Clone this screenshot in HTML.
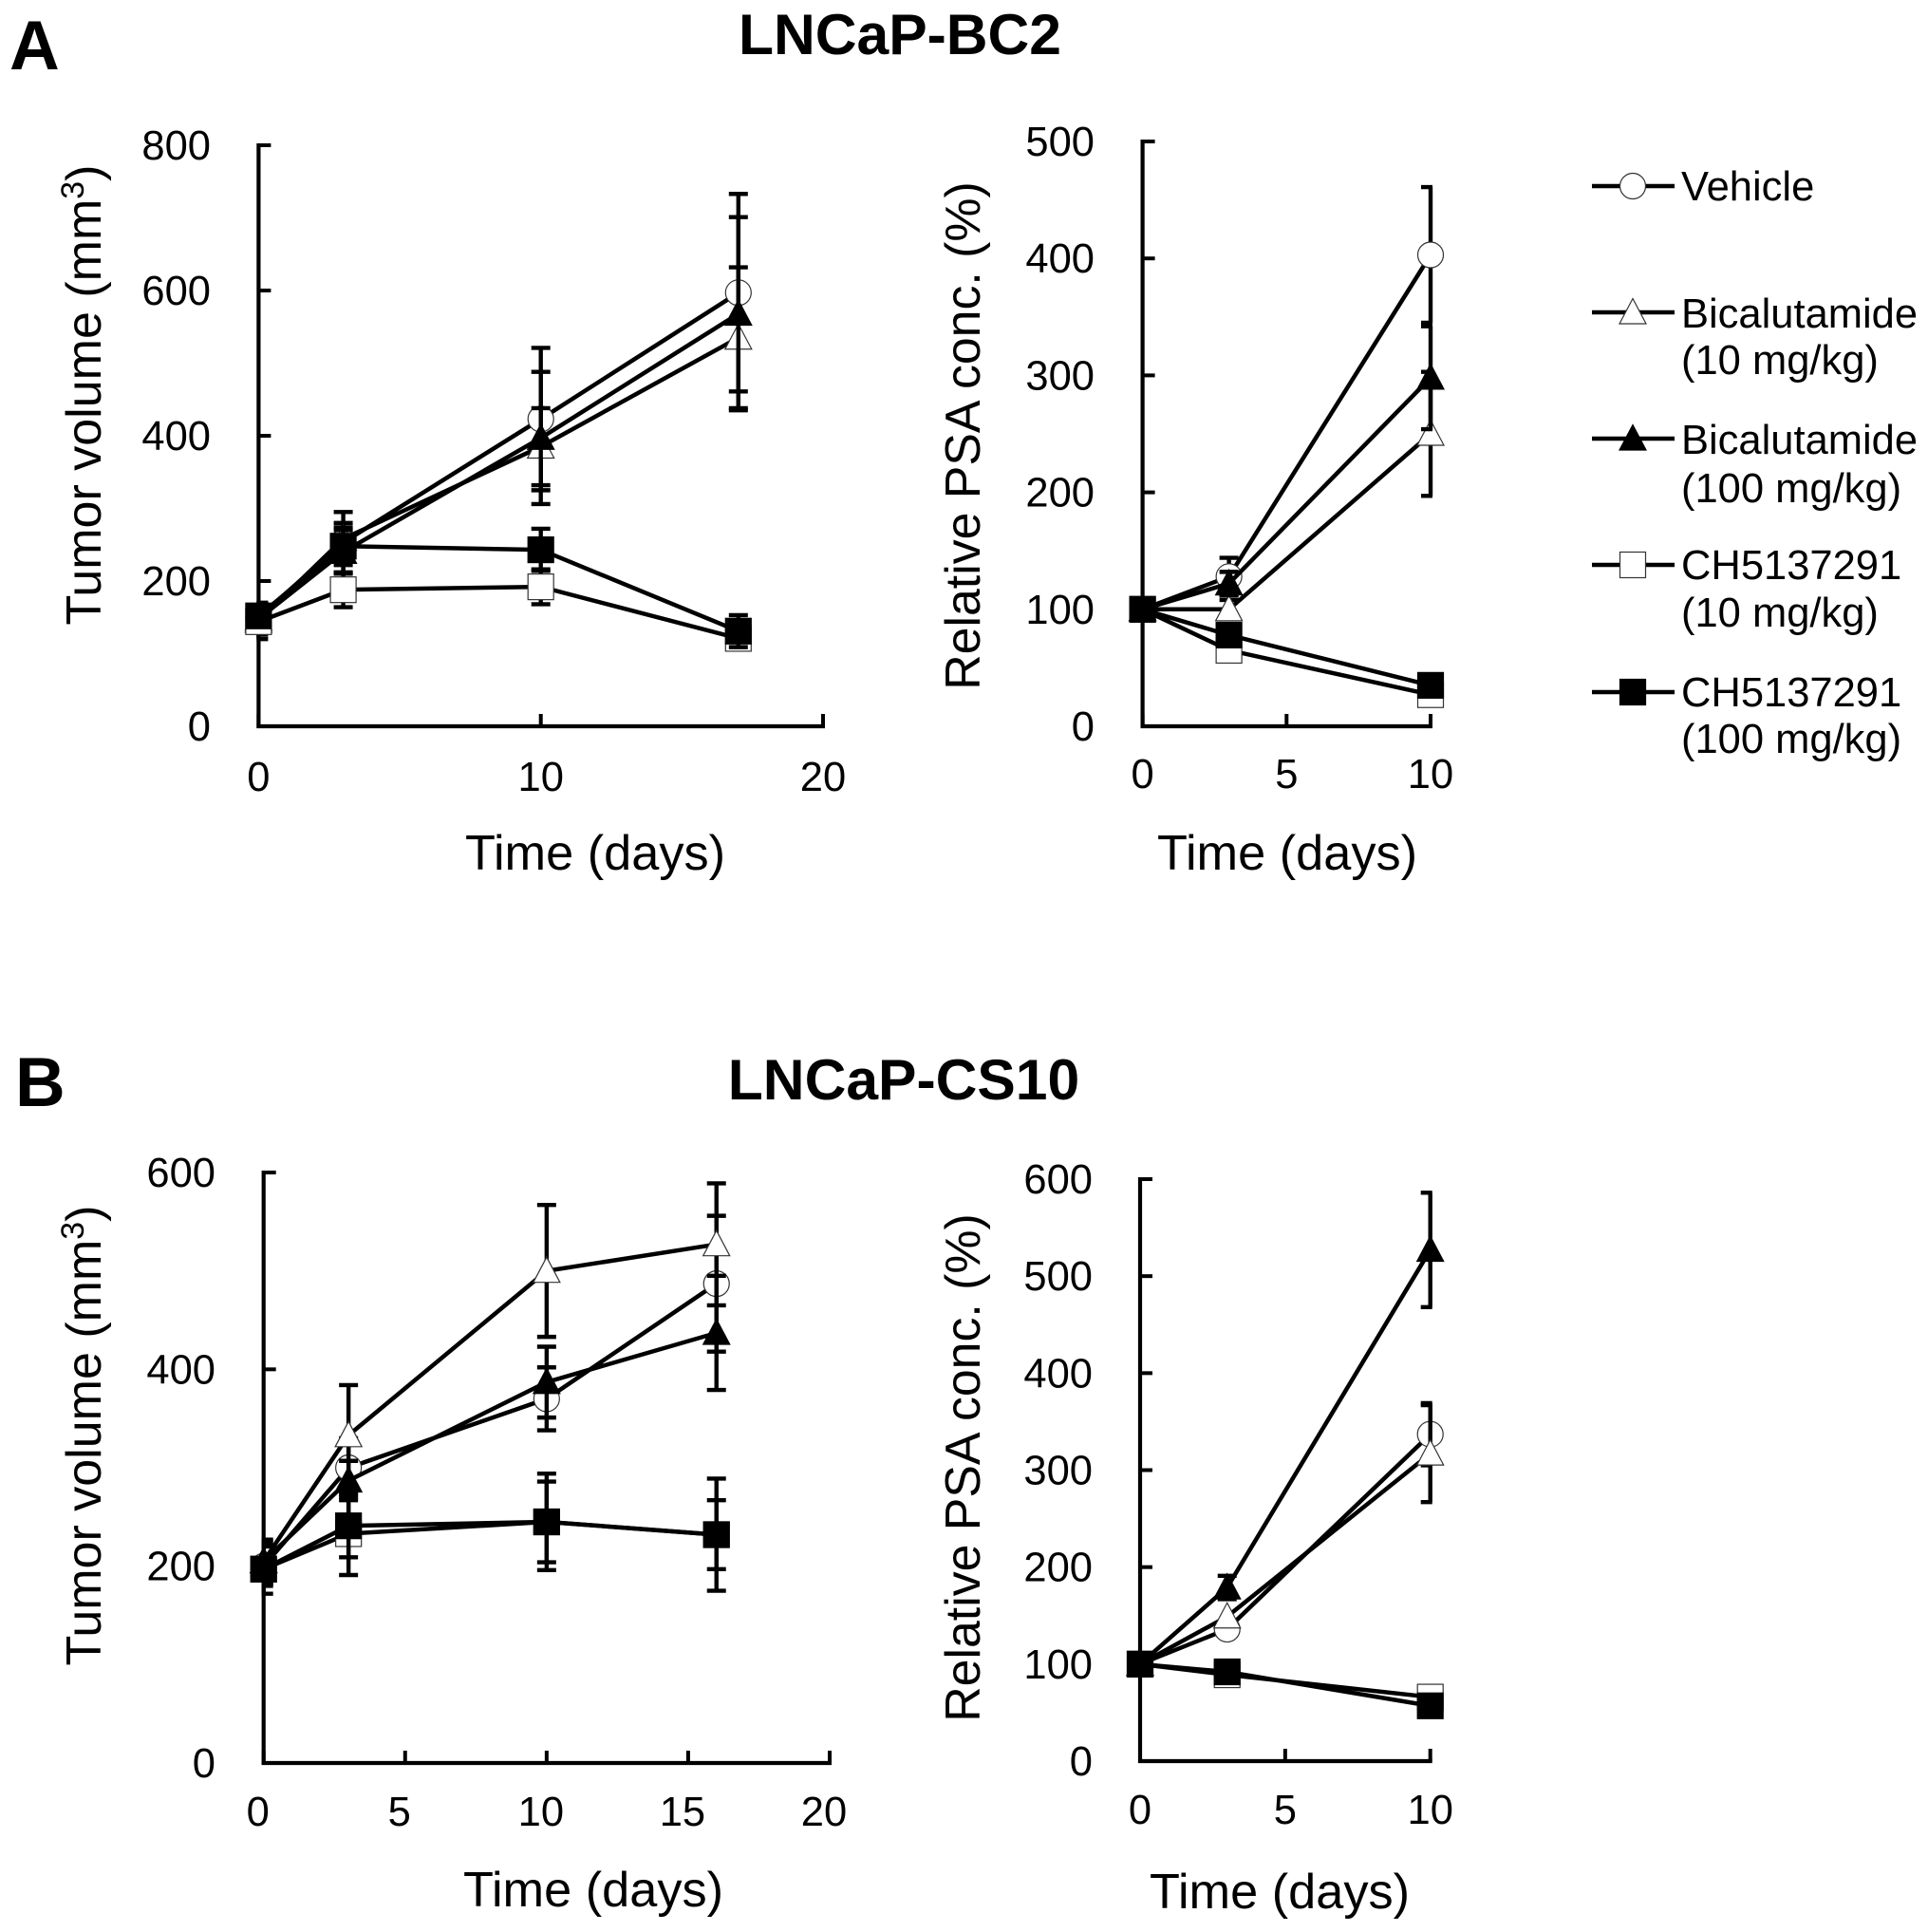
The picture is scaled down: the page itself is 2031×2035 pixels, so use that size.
<!DOCTYPE html>
<html lang="en">
<head>
<meta charset="utf-8">
<title>LNCaP tumor volume and PSA charts</title>
<style>
html,body{margin:0;padding:0;background:#fff;}
svg{display:block;font-family:"Liberation Sans",Arial,sans-serif;fill:#000;}
</style>
</head>
<body>
<svg id="figure" xmlns="http://www.w3.org/2000/svg" width="2031" height="2035" viewBox="0 0 2031 2035">
  <rect x="0" y="0" width="2031" height="2035" fill="#fff"/>
  <text x="10" y="73" font-size="73" font-weight="bold">A</text>
  <text x="16" y="1165" font-size="73" font-weight="bold">B</text>
  <text x="948" y="57" font-size="60.6" font-weight="bold" text-anchor="middle">LNCaP-BC2</text>
  <text x="952" y="1158" font-size="60.6" font-weight="bold" text-anchor="middle">LNCaP-CS10</text>

  <text transform="translate(106,416) rotate(-90)" font-size="52" text-anchor="middle">Tumor volume (mm<tspan font-size="34" dy="-18">3</tspan><tspan dy="18">)</tspan></text>
  <text transform="translate(1032,459) rotate(-90)" font-size="51.8" text-anchor="middle">Relative PSA conc. (%)</text>
  <text transform="translate(106,1512) rotate(-90)" font-size="52" text-anchor="middle">Tumor volume (mm<tspan font-size="34" dy="-18">3</tspan><tspan dy="18">)</tspan></text>
  <text transform="translate(1032,1546) rotate(-90)" font-size="51.8" text-anchor="middle">Relative PSA conc. (%)</text>

  <text x="627" y="916" font-size="52.3" text-anchor="middle">Time (days)</text>
  <text x="1356" y="916" font-size="52.3" text-anchor="middle">Time (days)</text>
  <text x="625" y="2008" font-size="52.3" text-anchor="middle">Time (days)</text>
  <text x="1348" y="2010" font-size="52.3" text-anchor="middle">Time (days)</text>

  <g font-size="43.5">
    <text x="1771" y="211">Vehicle</text>
    <text x="1771" y="345">Bicalutamide</text>
    <text x="1771" y="394">(10 mg/kg)</text>
    <text x="1771" y="478">Bicalutamide</text>
    <text x="1771" y="529">(100 mg/kg)</text>
    <text x="1771" y="610">CH5137291</text>
    <text x="1771" y="660">(10 mg/kg)</text>
    <text x="1771" y="744">CH5137291</text>
    <text x="1771" y="793">(100 mg/kg)</text>
  </g>
</svg>
<script>
// Panel A, tumor volume
const aVolDays = [0, 3, 10, 17];
const aVolVehicle = [150, 253, 423, 597];
const aVolVehicleErr = [20, 42, 98, 136];
const aVolBic10 = [145, 258, 385, 535];
const aVolBic10Err = [25, 22, 53, 97];
const aVolBic100 = [148, 240, 397, 568];
const aVolBic100Err = [20, 30, 91, 133];
const aVolCh10 = [144, 188, 192, 121];
const aVolCh10Err = [18, 24, 24, 0];
const aVolCh100 = [152, 248, 243, 131];
const aVolCh100Err = [15, 26, 29, 22];
const aVolXTicks = [0, 10, 20];
const aVolYTicks = [0, 200, 400, 600, 800];

// Panel A, PSA
const aPsaDays = [0, 3, 10];
const aPsaVehicle = [100, 128, 403];
const aPsaVehicleErr = [0, 16, 58];
const aPsaBic10 = [100, 100, 250];
const aPsaBic10Err = [0, 8, 53];
const aPsaBic100 = [100, 122, 298];
const aPsaBic100Err = [0, 10, 44];
const aPsaCh10 = [100, 65, 27];
const aPsaCh10Err = [0, 6, 4];
const aPsaCh100 = [100, 78, 35];
const aPsaCh100Err = [0, 6, 8];
const aPsaXTicks = [0, 5, 10];
const aPsaYTicks = [0, 100, 200, 300, 400, 500];

// Panel B, tumor volume
const bVolDays = [0, 3, 10, 16];
const bVolVehicle = [200, 300, 370, 487];
const bVolVehicleErr = [20, 30, 32, 69];
const bVolBic10 = [205, 333, 500, 527];
const bVolBic10Err = [22, 51, 67, 62];
const bVolBic100 = [205, 287, 387, 437];
const bVolBic100Err = [20, 20, 36, 58];
const bVolCh10 = [197, 233, 245, 232];
const bVolCh10Err = [15, 42, 41, 35];
const bVolCh100 = [197, 241, 245, 232];
const bVolCh100Err = [25, 32, 49, 57];
const bVolXTicks = [0, 5, 10, 15, 20];
const bVolYTicks = [0, 200, 400, 600];

// Panel B, PSA
const bPsaDays = [0, 3, 10];
const bPsaVehicle = [100, 136, 337];
const bPsaVehicleErr = [0, 0, 32];
const bPsaBic10 = [100, 149, 317];
const bPsaBic10Err = [0, 0, 50];
const bPsaBic100 = [100, 179, 527];
const bPsaBic100Err = [0, 12, 59];
const bPsaCh10 = [100, 89, 66];
const bPsaCh10Err = [0, 0, 0];
const bPsaCh100 = [100, 92, 57];
const bPsaCh100Err = [0, 0, 0];
const bPsaXTicks = [0, 5, 10];
const bPsaYTicks = [0, 100, 200, 300, 400, 500, 600];

const seriesIds = ['vehicle', 'bicalutamide-10', 'bicalutamide-100', 'ch5137291-10', 'ch5137291-100'];
const markerShapes = ['circle', 'triangle', 'triangle', 'square', 'square'];
const markerFills = ['#fff', '#fff', '#000', '#fff', '#000'];

const SVGNS = 'http://www.w3.org/2000/svg';
const svgRoot = document.getElementById('figure');

function mk(tag, parent, attrs) {
  const e = document.createElementNS(SVGNS, tag);
  for (const k in attrs) e.setAttribute(k, attrs[k]);
  parent.appendChild(e);
  return e;
}

function marker(parent, shape, fill, cx, cy, name) {
  const stroke = fill === '#000' ? '#000' : '#333';
  let el;
  if (shape === 'circle') {
    el = mk('circle', parent, {cx: cx, cy: cy, r: 13.5, fill: fill, stroke: stroke, 'stroke-width': 1.2});
  } else if (shape === 'triangle') {
    const p = (cx - 14) + ',' + (cy + 12) + ' ' + (cx + 14) + ',' + (cy + 12) + ' ' + cx + ',' + (cy - 14.5);
    el = mk('polygon', parent, {points: p, fill: fill, stroke: stroke, 'stroke-width': 1.2});
  } else {
    el = mk('rect', parent, {x: cx - 13.5, y: cy - 13.5, width: 27, height: 27, fill: fill, stroke: stroke, 'stroke-width': 1.2});
  }
  
  
  return el;
}

function drawPanel(panel) {
  const g = mk('g', svgRoot, {});
  
  
  const sx = v => panel.x0 + (v / panel.xMax) * (panel.x1 - panel.x0);
  const sy = v => panel.y0 - (v / panel.yMax) * (panel.y0 - panel.y1);

  const yAxis = mk('line', g, {x1: panel.x0, y1: panel.y1 - 2, x2: panel.x0, y2: panel.y0 + 2, stroke: '#000', 'stroke-width': 4.2});
  
  
  const xAxis = mk('line', g, {x1: panel.x0 - 2, y1: panel.y0, x2: panel.x1 + 2, y2: panel.y0, stroke: '#000', 'stroke-width': 4.2});
  
  

  panel.yTicks.forEach(function (t) {
    const tick = mk('line', g, {x1: panel.x0, y1: sy(t), x2: panel.x0 + 13, y2: sy(t), stroke: '#000', 'stroke-width': 4});
    
    
    const label = mk('text', g, {x: panel.yLabelX, y: sy(t) + 15, 'font-size': 43.5, 'text-anchor': 'end'});
    label.textContent = t;
    
    
  });
  panel.xTicks.forEach(function (t) {
    const tick = mk('line', g, {x1: sx(t), y1: panel.y0, x2: sx(t), y2: panel.y0 - 13, stroke: '#000', 'stroke-width': 4});
    
    
    const label = mk('text', g, {x: sx(t) + panel.xLabelDx, y: panel.xLabelY, 'font-size': 43.5, 'text-anchor': 'middle'});
    label.textContent = t;
    
    
  });

  panel.series.forEach(function (s, i) {
    const sg = mk('g', g, {});
    
    
    panel.days.forEach(function (d, j) {
      if (!s.err[j]) return;
      const x = sx(d);
      const top = sy(s.values[j] + s.err[j]);
      const bot = sy(s.values[j] - s.err[j]);
      // caps are cut off at the plot edges, as in the source figure
      const left = Math.max(x - 10, panel.x0 - 2);
      const right = Math.min(x + 10, panel.x1 + 2);
      const path = 'M' + left + ' ' + top + 'H' + right + 'M' + x + ' ' + top + 'V' + bot + 'M' + left + ' ' + bot + 'H' + right;
      const eb = mk('path', sg, {d: path, fill: 'none', stroke: '#000', 'stroke-width': 4.4});
      
      
    });
    const pts = panel.days.map(function (d, j) { return sx(d) + ',' + sy(s.values[j]); }).join(' ');
    const line = mk('polyline', sg, {points: pts, fill: 'none', stroke: '#000', 'stroke-width': 4.5});
    
    
    panel.days.forEach(function (d, j) {
      marker(sg, markerShapes[i], markerFills[i], sx(d), sy(s.values[j]), 'point-marker');
    });
  });
}

drawPanel({
  name: 'chart-a-tumor-volume', x0: 272.4, x1: 867, xMax: 20, y0: 765, y1: 153, yMax: 800,
  yLabelX: 222, xLabelY: 833, xLabelDx: 0, days: aVolDays, xTicks: aVolXTicks, yTicks: aVolYTicks,
  series: [
    {values: aVolVehicle, err: aVolVehicleErr},
    {values: aVolBic10, err: aVolBic10Err},
    {values: aVolBic100, err: aVolBic100Err},
    {values: aVolCh10, err: aVolCh10Err},
    {values: aVolCh100, err: aVolCh100Err}
  ]
});
drawPanel({
  name: 'chart-a-psa', x0: 1203.6, x1: 1507, xMax: 10, y0: 765, y1: 149, yMax: 500,
  yLabelX: 1153, xLabelY: 830, xLabelDx: 0, days: aPsaDays, xTicks: aPsaXTicks, yTicks: aPsaYTicks,
  series: [
    {values: aPsaVehicle, err: aPsaVehicleErr},
    {values: aPsaBic10, err: aPsaBic10Err},
    {values: aPsaBic100, err: aPsaBic100Err},
    {values: aPsaCh10, err: aPsaCh10Err},
    {values: aPsaCh100, err: aPsaCh100Err}
  ]
});
drawPanel({
  name: 'chart-b-tumor-volume', x0: 277.7, x1: 874, xMax: 20, y0: 1857, y1: 1235, yMax: 600,
  yLabelX: 227, xLabelY: 1923, xLabelDx: -6, days: bVolDays, xTicks: bVolXTicks, yTicks: bVolYTicks,
  series: [
    {values: bVolVehicle, err: bVolVehicleErr},
    {values: bVolBic10, err: bVolBic10Err},
    {values: bVolBic100, err: bVolBic100Err},
    {values: bVolCh10, err: bVolCh10Err},
    {values: bVolCh100, err: bVolCh100Err}
  ]
});
drawPanel({
  name: 'chart-b-psa', x0: 1201, x1: 1506.7, xMax: 10, y0: 1855, y1: 1242, yMax: 600,
  yLabelX: 1151, xLabelY: 1921, xLabelDx: 0, days: bPsaDays, xTicks: bPsaXTicks, yTicks: bPsaYTicks,
  series: [
    {values: bPsaVehicle, err: bPsaVehicleErr},
    {values: bPsaBic10, err: bPsaBic10Err},
    {values: bPsaBic100, err: bPsaBic100Err},
    {values: bPsaCh10, err: bPsaCh10Err},
    {values: bPsaCh100, err: bPsaCh100Err}
  ]
});

const legendYs = [196, 329, 462, 595, 729];
const legendGroup = mk('g', svgRoot, {});


seriesIds.forEach(function (id, i) {
  const key = mk('line', legendGroup, {x1: 1677, y1: legendYs[i], x2: 1764, y2: legendYs[i], stroke: '#000', 'stroke-width': 4.5});
  
  
  marker(legendGroup, markerShapes[i], markerFills[i], 1720, legendYs[i], 'legend-marker-' + id);
});
</script>
</body>
</html>
